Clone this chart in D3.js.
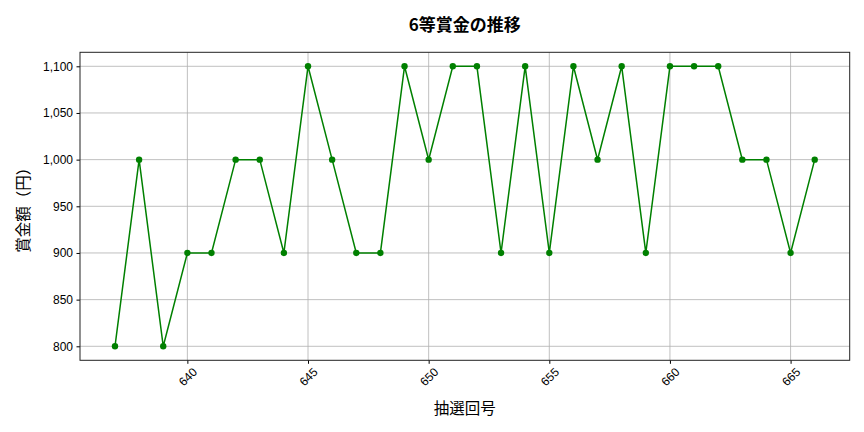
<!DOCTYPE html>
<html>
<head>
<meta charset="utf-8">
<script src="https://cdn.jsdelivr.net/npm/d3@7"></script>
<style>
  body { margin: 0; background: #fff; }
  svg { display: block; font-family: "Noto Sans CJK JP", "Noto Sans", sans-serif; }
</style>
</head>
<body>
<div id="chart"></div>
<script>
// --- data ---
const draws = [637, 638, 639, 640, 641, 642, 643, 644, 645, 646, 647, 648, 649, 650, 651,
               652, 653, 654, 655, 656, 657, 658, 659, 660, 661, 662, 663, 664, 665, 666];
const prizes = [800, 1000, 800, 900, 900, 1000, 1000, 900, 1100, 1000, 900, 900, 1100, 1000, 1100,
                1100, 900, 1100, 900, 1100, 1000, 1100, 900, 1100, 1100, 1100, 1000, 1000, 900, 1000];
const xTicks = [640, 645, 650, 655, 660, 665];
const yTicks = [800, 850, 900, 950, 1000, 1050, 1100];

const width = 864, height = 432;
const margin = { top: 52.3, right: 14.3, bottom: 71.7, left: 80 };
const fontCJK = '"Noto Sans CJK JP", "Noto Sans", sans-serif';

const svg = d3.select("#chart").append("svg")
    .attr("width", width)
    .attr("height", height);

const x = d3.scaleLinear()
    .domain([635.55, 667.45])
    .range([margin.left, width - margin.right]);
const y = d3.scaleLinear()
    .domain([785, 1115])
    .range([height - margin.bottom, margin.top]);

const fmt = d3.format(",");

// grid
svg.append("g").selectAll("line.gx")
    .data(xTicks).enter().append("line")
    .attr("x1", d => x(d)).attr("x2", d => x(d))
    .attr("y1", margin.top).attr("y2", height - margin.bottom)
    .attr("stroke", "#b0b0b0").attr("stroke-width", 0.8);
svg.append("g").selectAll("line.gy")
    .data(yTicks).enter().append("line")
    .attr("y1", d => y(d)).attr("y2", d => y(d))
    .attr("x1", margin.left).attr("x2", width - margin.right)
    .attr("stroke", "#b0b0b0").attr("stroke-width", 0.8);

// axes
const xAxis = svg.append("g")
    .attr("transform", `translate(0,${height - margin.bottom})`)
    .attr("font-family", fontCJK)
    .call(d3.axisBottom(x).tickValues(xTicks).tickSize(3.5).tickPadding(3));
xAxis.select(".domain").remove();
// rotated labels centred under their tick, like matplotlib rotation=45
xAxis.selectAll(".tick text")
    .attr("font-size", 12)
    .attr("fill", "#000")
    .attr("text-anchor", "middle")
    .attr("y", 0).attr("dy", "0.35em")
    .attr("transform", "translate(0,16.5) rotate(-45)");

const yAxis = svg.append("g")
    .attr("transform", `translate(${margin.left},0)`)
    .attr("font-family", fontCJK)
    .call(d3.axisLeft(y).tickValues(yTicks).tickFormat(fmt).tickSize(3.5).tickPadding(3.5));
yAxis.select(".domain").remove();
yAxis.selectAll("text").attr("font-size", 12).attr("fill", "#000");

// frame
svg.append("rect")
    .attr("x", margin.left).attr("y", margin.top)
    .attr("width", width - margin.left - margin.right)
    .attr("height", height - margin.top - margin.bottom)
    .attr("fill", "none").attr("stroke", "#222").attr("stroke-width", 1);

// line + markers
const pts = draws.map((d, i) => ({ draw: d, prize: prizes[i] }));
svg.append("path")
    .datum(pts)
    .attr("fill", "none")
    .attr("stroke", "green")
    .attr("stroke-width", 1.5)
    .attr("d", d3.line().x(d => x(d.draw)).y(d => y(d.prize)));
svg.append("g").selectAll("circle")
    .data(pts).enter().append("circle")
    .attr("cx", d => x(d.draw))
    .attr("cy", d => y(d.prize))
    .attr("r", 3.2)
    .attr("fill", "green");

// titles
svg.append("text")
    .attr("x", (margin.left + width - margin.right) / 2)
    .attr("y", 31)
    .attr("text-anchor", "middle")
    .attr("font-size", 17)
    .attr("font-weight", "bold")
    .text("6等賞金の推移");
svg.append("text")
    .attr("x", (margin.left + width - margin.right) / 2)
    .attr("y", 414)
    .attr("text-anchor", "middle")
    .attr("font-size", 15.5)
    .text("抽選回号");
svg.append("text")
    .attr("transform", `translate(28.5,${(margin.top + height - margin.bottom) / 2}) rotate(-90)`)
    .attr("text-anchor", "middle")
    .attr("font-size", 15.5)
    .text("賞金額（円）");
</script>
</body>
</html>
